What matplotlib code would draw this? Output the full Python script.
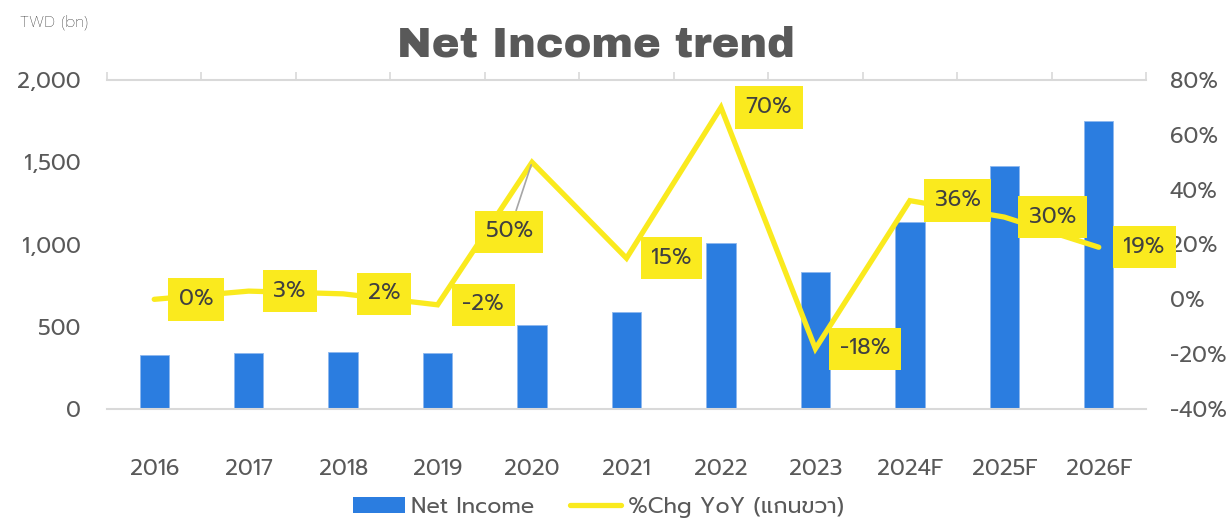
import numpy as np
import matplotlib
matplotlib.use("Agg")
import matplotlib.pyplot as plt
from matplotlib.patches import Patch
from matplotlib.lines import Line2D

plt.rcParams['font.family'] = ['Prompt', 'Kanit', 'Anuphan', 'DejaVu Sans']

years = ['2016', '2017', '2018', '2019', '2020', '2021', '2022', '2023', '2024F', '2025F', '2026F']
net_income = [330, 342, 348, 341, 512, 592, 1012, 835, 1134, 1476, 1752]
chg_yoy = [0.00, 0.03, 0.02, -0.02, 0.50, 0.15, 0.70, -0.18, 0.36, 0.30, 0.19]
chg_labels = ['0%', '3%', '2%', '-2%', '50%', '15%', '70%', '-18%', '36%', '30%', '19%']

blue = '#2B7DE0'
yellow = '#FAEA1E'
grey_txt = '#595959'
axis_grey = '#D9D9D9'

fig = plt.figure(figsize=(12.29, 5.21), dpi=100)
ax = fig.add_axes([107/1229, 1-409/521, (1146-107)/1229, (409-80)/521])
x = np.arange(len(years))

ax.bar(x, net_income, width=0.31, color=blue, edgecolor='#8DB8EE', linewidth=0.6, zorder=2)
ax.set_xlim(-0.5, len(years) - 0.5)
ax.set_ylim(0, 2000)
ax.set_yticks([0, 500, 1000, 1500, 2000])
ax.set_yticklabels(['0', '500', '1,000', '1,500', '2,000'])
ax.set_xticks(x)
ax.set_xticklabels(years)
ax.set_xticks(np.arange(-0.5, len(years), 1), minor=True)
ax.tick_params(axis='x', which='major', length=0, pad=36, labelsize=16, labelcolor=grey_txt)
ax.tick_params(axis='x', which='minor', bottom=False, top=True, length=6, width=1.2, color=axis_grey)
ax.tick_params(axis='y', length=0, pad=19, labelsize=16, labelcolor=grey_txt)
for s in ['left', 'right']:
    ax.spines[s].set_visible(False)
ax.spines['top'].set_color(axis_grey)
ax.spines['top'].set_linewidth(1.5)
ax.spines['bottom'].set_color(axis_grey)
ax.spines['bottom'].set_linewidth(1.5)

ax2 = ax.twinx()
ax2.plot(x, chg_yoy, color=yellow, linewidth=3.8, solid_capstyle='round', solid_joinstyle='miter', zorder=3)
ax2.set_ylim(-0.4, 0.8)
ax2.set_yticks(np.arange(-0.4, 0.81, 0.2))
ax2.set_yticklabels(['-40%', '-20%', '0%', '20%', '40%', '60%', '80%'])
ax2.tick_params(axis='y', length=0, pad=17, labelsize=16, labelcolor=grey_txt)
for s in ax2.spines.values():
    s.set_visible(False)

box = dict(boxstyle='square,pad=0.48', facecolor=yellow, edgecolor='none')
for i, (v, lab) in enumerate(zip(chg_yoy, chg_labels)):
    if i == 4:
        ax2.annotate(lab, xy=(i, v), xytext=(-16.5, -50), textcoords='offset points',
                     ha='center', va='center', fontsize=16, color='#404040', bbox=box,
                     arrowprops=dict(arrowstyle='-', color='#A6A6A6', lw=1.2, shrinkA=0, shrinkB=2),
                     zorder=4)
    else:
        ax2.annotate(lab, xy=(i, v), xytext=(17.8, 0), textcoords='offset points',
                     ha='left', va='center', fontsize=16, color='#404040', bbox=box, zorder=4)

fig.text(0.485, 0.914, 'Net Income trend', ha='center', va='center', fontsize=30,
         color=grey_txt, family=['Archivo Black', 'DejaVu Sans'])
fig.text(0.016, 0.957, 'TWD (bn)', ha='left', va='center', fontsize=11, color='#262626',
         fontweight='light')

handles = [Patch(facecolor=blue, edgecolor='none'),
           Line2D([0], [0], color=yellow, lw=3.8, solid_capstyle='round')]
fig.legend(handles, ['Net Income', '%Chg YoY (แกนขวา)'], loc='center', bbox_to_anchor=(0.487, 0.026),
           ncol=2, frameon=False, fontsize=16, labelcolor=grey_txt, handlelength=2.3,
           handleheight=0.7, handletextpad=0.3, columnspacing=1.6)

fig.savefig('out.png', dpi=100)
